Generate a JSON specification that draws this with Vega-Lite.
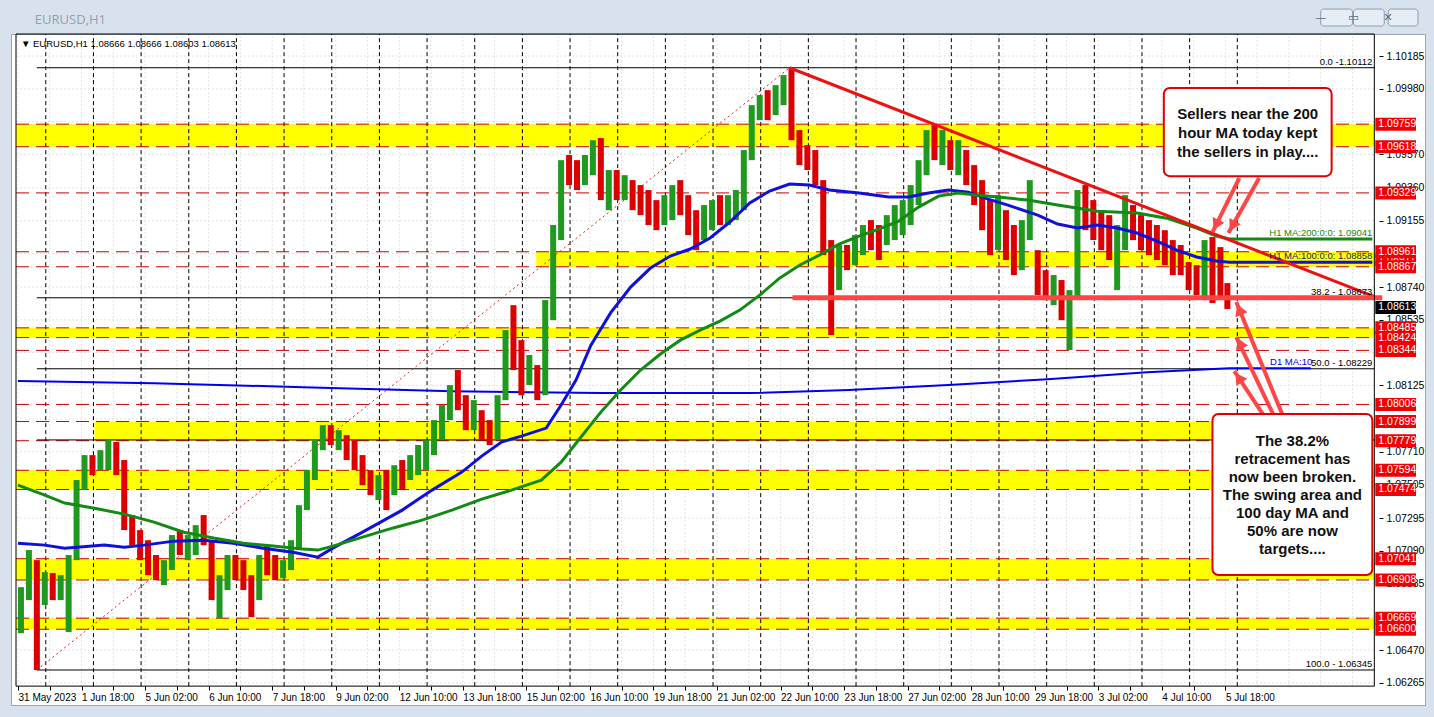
{
"$schema": "https://vega.github.io/schema/vega-lite/v6.json",
"width": 1414, "height": 671,
"autosize": {"type": "none"},
"padding": {"left": 11, "top": 34, "right": 9, "bottom": 12},
"background": "#d8e2ee",
"config": {"view": {"fill": "white", "stroke": "#9aa6b2"}, "font": "Liberation Sans"},
"resolve": {"axis": {"x": "independent", "y": "independent"}},
"data": {"values": [{}]},
"datasets": {
"yticks": [{"v":1.10185},{"v":1.0998},{"v":1.09775},{"v":1.0957},{"v":1.0936},{"v":1.09155},{"v":1.0895},{"v":1.0874},{"v":1.08535},{"v":1.0833},{"v":1.08125},{"v":1.07915},{"v":1.0771},{"v":1.07505},{"v":1.07295},{"v":1.0709},{"v":1.06885},{"v":1.06675},{"v":1.0647},{"v":1.06265}],
"xticks": [{"v":0},{"v":16},{"v":32},{"v":48},{"v":64},{"v":80},{"v":96},{"v":112},{"v":128},{"v":144},{"v":160},{"v":176},{"v":192},{"v":208},{"v":224},{"v":240},{"v":256},{"v":272},{"v":288},{"v":304},{"v":320},{"v":336},{"v":352},{"v":368},{"v":384},{"v":400},{"v":416},{"v":432},{"v":448},{"v":464},{"v":480},{"v":496},{"v":512},{"v":528},{"v":544},{"v":560},{"v":576},{"v":592},{"v":608},{"v":624},{"v":640},{"v":656},{"v":672}],
"days": [{"i":14},{"i":38},{"i":62},{"i":86},{"i":110},{"i":134},{"i":158},{"i":182},{"i":206},{"i":230},{"i":254},{"i":278},{"i":302},{"i":326},{"i":350},{"i":374},{"i":398},{"i":422},{"i":446},{"i":470},{"i":494},{"i":518},{"i":542},{"i":566},{"i":590},{"i":614}],
"bands": [{"lo":1.09618,"hi":1.09759,"from":-1},{"lo":1.08867,"hi":1.08961,"from":261},{"lo":1.08424,"hi":1.08485,"from":-1},{"lo":1.07779,"hi":1.07899,"from":38.5},{"lo":1.07474,"hi":1.07594,"from":-1},{"lo":1.06908,"hi":1.07041,"from":-1},{"lo":1.066,"hi":1.06669,"from":-1}],
"levels": [{"v":1.09759},{"v":1.09618},{"v":1.09329},{"v":1.08961},{"v":1.08867},{"v":1.08485},{"v":1.08424},{"v":1.08344},{"v":1.08006},{"v":1.07899},{"v":1.07779},{"v":1.07594},{"v":1.07474},{"v":1.07041},{"v":1.06908},{"v":1.06669},{"v":1.066}],
"fib": [{"v":1.10112,"t":"0.0 -1.10112"},{"v":1.08673,"t":"38.2 - 1.08673"},{"v":1.08229,"t":"50.0 - 1.08229"},{"v":1.07784,"t":"61.8 - 1.07784"},{"v":1.06345,"t":"100.0 - 1.06345"}],
"buttons": [{"a":656,"b":672,"g":"—"},{"a":672.5,"b":688,"g":"▭"},{"a":690,"b":705,"g":"✕"}],
"candles": [
{"i":1.5,"o":1.067,"h":1.06863,"l":1.06575,"c":1.0678},
{"i":5.5,"o":1.068,"h":1.07095,"l":1.06782,"c":1.07},
{"i":9.5,"o":1.07,"h":1.07032,"l":1.06345,"c":1.068},
{"i":13.5,"o":1.068,"h":1.06957,"l":1.06751,"c":1.0692},
{"i":17.5,"o":1.0692,"h":1.06951,"l":1.06782,"c":1.0685},
{"i":21.5,"o":1.0685,"h":1.06938,"l":1.06782,"c":1.069},
{"i":25.5,"o":1.069,"h":1.07064,"l":1.06582,"c":1.0705},
{"i":29.5,"o":1.0705,"h":1.07533,"l":1.07032,"c":1.075},
{"i":33.5,"o":1.075,"h":1.07689,"l":1.0747,"c":1.0765},
{"i":37.5,"o":1.0765,"h":1.07689,"l":1.07564,"c":1.076},
{"i":41.5,"o":1.076,"h":1.0772,"l":1.07595,"c":1.0768},
{"i":45.5,"o":1.0768,"h":1.07783,"l":1.07595,"c":1.0772},
{"i":49.5,"o":1.0772,"h":1.07771,"l":1.07564,"c":1.076},
{"i":53.5,"o":1.076,"h":1.07658,"l":1.0722,"c":1.0725},
{"i":57.5,"o":1.0725,"h":1.07314,"l":1.07126,"c":1.0718},
{"i":61.5,"o":1.0718,"h":1.0722,"l":1.07032,"c":1.0708},
{"i":65.5,"o":1.0708,"h":1.07157,"l":1.06938,"c":1.0698},
{"i":69.5,"o":1.0698,"h":1.07064,"l":1.06907,"c":1.0694},
{"i":73.5,"o":1.0694,"h":1.07032,"l":1.06876,"c":1.07},
{"i":77.5,"o":1.07,"h":1.07189,"l":1.0697,"c":1.0715},
{"i":81.5,"o":1.0715,"h":1.0722,"l":1.07064,"c":1.071},
{"i":85.5,"o":1.071,"h":1.07189,"l":1.07032,"c":1.0712},
{"i":89.5,"o":1.0712,"h":1.07251,"l":1.07064,"c":1.072},
{"i":93.5,"o":1.072,"h":1.07314,"l":1.07126,"c":1.0713},
{"i":97.5,"o":1.0713,"h":1.07157,"l":1.06782,"c":1.068},
{"i":101.5,"o":1.068,"h":1.06938,"l":1.06669,"c":1.069},
{"i":105.5,"o":1.069,"h":1.07064,"l":1.06845,"c":1.0702},
{"i":109.5,"o":1.0702,"h":1.07064,"l":1.06907,"c":1.0695},
{"i":113.5,"o":1.0695,"h":1.07032,"l":1.06845,"c":1.0688},
{"i":117.5,"o":1.0688,"h":1.06938,"l":1.06676,"c":1.0685},
{"i":121.5,"o":1.0685,"h":1.07064,"l":1.06782,"c":1.0703},
{"i":125.5,"o":1.0703,"h":1.07126,"l":1.06938,"c":1.07},
{"i":129.5,"o":1.07,"h":1.07064,"l":1.06907,"c":1.0696},
{"i":133.5,"o":1.0696,"h":1.07032,"l":1.06919,"c":1.0701},
{"i":137.5,"o":1.0701,"h":1.07157,"l":1.0697,"c":1.0712},
{"i":141.5,"o":1.0712,"h":1.07376,"l":1.07095,"c":1.0734},
{"i":145.5,"o":1.0734,"h":1.07595,"l":1.07345,"c":1.0756},
{"i":149.5,"o":1.0756,"h":1.07783,"l":1.07533,"c":1.0775},
{"i":153.5,"o":1.0775,"h":1.07877,"l":1.0772,"c":1.0782},
{"i":157.5,"o":1.0782,"h":1.07877,"l":1.07752,"c":1.0778},
{"i":161.5,"o":1.0778,"h":1.07845,"l":1.0772,"c":1.078},
{"i":165.5,"o":1.078,"h":1.07814,"l":1.07658,"c":1.077},
{"i":169.5,"o":1.077,"h":1.07783,"l":1.07595,"c":1.0763},
{"i":173.5,"o":1.0763,"h":1.07689,"l":1.07501,"c":1.0752},
{"i":177.5,"o":1.0752,"h":1.07595,"l":1.07439,"c":1.0746},
{"i":181.5,"o":1.0746,"h":1.07564,"l":1.07408,"c":1.0748},
{"i":185.5,"o":1.0748,"h":1.07595,"l":1.07345,"c":1.0745},
{"i":189.5,"o":1.0745,"h":1.07626,"l":1.07439,"c":1.0755},
{"i":193.5,"o":1.0755,"h":1.07658,"l":1.0747,"c":1.0754},
{"i":197.5,"o":1.0754,"h":1.07689,"l":1.07533,"c":1.0762},
{"i":201.5,"o":1.0762,"h":1.07752,"l":1.07564,"c":1.0768},
{"i":205.5,"o":1.0768,"h":1.07783,"l":1.07595,"c":1.0774},
{"i":209.5,"o":1.0774,"h":1.07908,"l":1.07689,"c":1.0786},
{"i":213.5,"o":1.0786,"h":1.08002,"l":1.07783,"c":1.0795},
{"i":217.5,"o":1.0795,"h":1.08127,"l":1.07908,"c":1.0808},
{"i":221.5,"o":1.0808,"h":1.08221,"l":1.0797,"c":1.0802},
{"i":225.5,"o":1.0802,"h":1.08064,"l":1.07845,"c":1.079},
{"i":229.5,"o":1.079,"h":1.08033,"l":1.07845,"c":1.0796},
{"i":233.5,"o":1.0796,"h":1.0797,"l":1.07783,"c":1.0787},
{"i":237.5,"o":1.0787,"h":1.07908,"l":1.07752,"c":1.0782},
{"i":241.5,"o":1.0782,"h":1.08064,"l":1.07783,"c":1.0802},
{"i":245.5,"o":1.0805,"h":1.08471,"l":1.08033,"c":1.084},
{"i":249.5,"o":1.084,"h":1.08627,"l":1.08221,"c":1.0828},
{"i":253.5,"o":1.0828,"h":1.08408,"l":1.08064,"c":1.081},
{"i":257.5,"o":1.0814,"h":1.08315,"l":1.08127,"c":1.0825},
{"i":261.5,"o":1.0825,"h":1.08252,"l":1.08033,"c":1.0808},
{"i":265.5,"o":1.0808,"h":1.08659,"l":1.08064,"c":1.086},
{"i":269.5,"o":1.086,"h":1.09128,"l":1.08533,"c":1.0905},
{"i":273.5,"o":1.0905,"h":1.09534,"l":1.09034,"c":1.0948},
{"i":277.5,"o":1.0948,"h":1.09566,"l":1.09378,"c":1.0945},
{"i":281.5,"o":1.0945,"h":1.09534,"l":1.09347,"c":1.094},
{"i":285.5,"o":1.094,"h":1.09566,"l":1.09378,"c":1.095},
{"i":289.5,"o":1.095,"h":1.09659,"l":1.0944,"c":1.0958},
{"i":293.5,"o":1.0958,"h":1.09672,"l":1.09284,"c":1.0932},
{"i":297.5,"o":1.0932,"h":1.09472,"l":1.09221,"c":1.094},
{"i":301.5,"o":1.094,"h":1.09472,"l":1.09284,"c":1.0935},
{"i":305.5,"o":1.0935,"h":1.0944,"l":1.09284,"c":1.0938},
{"i":309.5,"o":1.0938,"h":1.09409,"l":1.09221,"c":1.093},
{"i":313.5,"o":1.093,"h":1.09378,"l":1.0919,"c":1.0925},
{"i":317.5,"o":1.0925,"h":1.09347,"l":1.09128,"c":1.0918},
{"i":321.5,"o":1.0918,"h":1.09284,"l":1.09096,"c":1.0915},
{"i":325.5,"o":1.0915,"h":1.09315,"l":1.09128,"c":1.0925},
{"i":329.5,"o":1.0925,"h":1.09378,"l":1.09159,"c":1.0932},
{"i":333.5,"o":1.0932,"h":1.09409,"l":1.0919,"c":1.0925},
{"i":337.5,"o":1.0925,"h":1.09315,"l":1.09065,"c":1.0912},
{"i":341.5,"o":1.0912,"h":1.09221,"l":1.08971,"c":1.0905},
{"i":345.5,"o":1.0905,"h":1.09253,"l":1.09034,"c":1.0915},
{"i":349.5,"o":1.0915,"h":1.09284,"l":1.09096,"c":1.0922},
{"i":353.5,"o":1.0922,"h":1.09315,"l":1.09128,"c":1.0918},
{"i":357.5,"o":1.0918,"h":1.09315,"l":1.09128,"c":1.0925},
{"i":361.5,"o":1.0925,"h":1.09347,"l":1.09159,"c":1.093},
{"i":365.5,"o":1.093,"h":1.09597,"l":1.09221,"c":1.0955},
{"i":369.5,"o":1.0955,"h":1.09878,"l":1.09534,"c":1.0982},
{"i":373.5,"o":1.0982,"h":1.09941,"l":1.09784,"c":1.099},
{"i":377.5,"o":1.099,"h":1.09972,"l":1.09784,"c":1.0985},
{"i":381.5,"o":1.0985,"h":1.10003,"l":1.09816,"c":1.0995},
{"i":385.5,"o":1.0995,"h":1.10066,"l":1.09878,"c":1.1},
{"i":389.5,"o":1.1,"h":1.10112,"l":1.09659,"c":1.0968},
{"i":393.5,"o":1.0968,"h":1.09722,"l":1.09503,"c":1.0955},
{"i":397.5,"o":1.0955,"h":1.09628,"l":1.09472,"c":1.095},
{"i":401.5,"o":1.095,"h":1.09597,"l":1.09378,"c":1.0942},
{"i":405.5,"o":1.094,"h":1.09409,"l":1.0894,"c":1.09},
{"i":409.5,"o":1.09,"h":1.09034,"l":1.0844,"c":1.088},
{"i":413.5,"o":1.088,"h":1.09003,"l":1.08721,"c":1.0895},
{"i":417.5,"o":1.0895,"h":1.09003,"l":1.08846,"c":1.089},
{"i":421.5,"o":1.089,"h":1.09065,"l":1.08877,"c":1.09},
{"i":425.5,"o":1.09,"h":1.09128,"l":1.0894,"c":1.0908},
{"i":429.5,"o":1.0908,"h":1.09159,"l":1.08971,"c":1.0905},
{"i":433.5,"o":1.0905,"h":1.09128,"l":1.08909,"c":1.0898},
{"i":437.5,"o":1.0901,"h":1.0919,"l":1.09003,"c":1.0912},
{"i":441.5,"o":1.0912,"h":1.09253,"l":1.09034,"c":1.0918},
{"i":445.5,"o":1.0918,"h":1.09284,"l":1.09065,"c":1.0922},
{"i":449.5,"o":1.0922,"h":1.09378,"l":1.09128,"c":1.0932},
{"i":453.5,"o":1.0932,"h":1.09534,"l":1.09253,"c":1.095},
{"i":457.5,"o":1.095,"h":1.09722,"l":1.0944,"c":1.0968},
{"i":461.5,"o":1.0968,"h":1.09753,"l":1.09534,"c":1.096},
{"i":465.5,"o":1.096,"h":1.09722,"l":1.09503,"c":1.0965},
{"i":469.5,"o":1.0965,"h":1.09659,"l":1.09472,"c":1.0955},
{"i":473.5,"o":1.0955,"h":1.09659,"l":1.0944,"c":1.0958},
{"i":477.5,"o":1.0958,"h":1.09597,"l":1.09378,"c":1.0945},
{"i":481.5,"o":1.0945,"h":1.09503,"l":1.09253,"c":1.093},
{"i":485.5,"o":1.093,"h":1.09409,"l":1.09096,"c":1.0915},
{"i":489.5,"o":1.0915,"h":1.09284,"l":1.0894,"c":1.09},
{"i":493.5,"o":1.09,"h":1.09315,"l":1.08971,"c":1.0912},
{"i":497.5,"o":1.0912,"h":1.09221,"l":1.08909,"c":1.0895},
{"i":501.5,"o":1.0895,"h":1.09128,"l":1.08815,"c":1.0888},
{"i":505.5,"o":1.0888,"h":1.09159,"l":1.08846,"c":1.0905},
{"i":509.5,"o":1.0905,"h":1.09409,"l":1.09034,"c":1.0912},
{"i":513.5,"o":1.0895,"h":1.08971,"l":1.0869,"c":1.0875},
{"i":517.5,"o":1.0875,"h":1.08846,"l":1.08659,"c":1.0868},
{"i":521.5,"o":1.0868,"h":1.08815,"l":1.08627,"c":1.0872},
{"i":525.5,"o":1.0872,"h":1.08784,"l":1.08533,"c":1.0858},
{"i":529.5,"o":1.0858,"h":1.08721,"l":1.08346,"c":1.0862},
{"i":533.5,"o":1.0866,"h":1.09347,"l":1.08659,"c":1.0925},
{"i":537.5,"o":1.0925,"h":1.09378,"l":1.09096,"c":1.0918},
{"i":541.5,"o":1.0918,"h":1.09284,"l":1.09034,"c":1.0912},
{"i":545.5,"o":1.0912,"h":1.09221,"l":1.08971,"c":1.0905},
{"i":549.5,"o":1.0905,"h":1.0919,"l":1.08909,"c":1.09},
{"i":553.5,"o":1.09,"h":1.09128,"l":1.08721,"c":1.0905},
{"i":557.5,"o":1.0905,"h":1.09315,"l":1.08971,"c":1.0922},
{"i":561.5,"o":1.0922,"h":1.09253,"l":1.09034,"c":1.0915},
{"i":565.5,"o":1.0915,"h":1.0919,"l":1.08971,"c":1.091},
{"i":569.5,"o":1.091,"h":1.09159,"l":1.0894,"c":1.0905},
{"i":573.5,"o":1.0905,"h":1.09128,"l":1.08909,"c":1.09},
{"i":577.5,"o":1.09,"h":1.09096,"l":1.08877,"c":1.0895},
{"i":581.5,"o":1.0895,"h":1.09034,"l":1.08815,"c":1.089},
{"i":585.5,"o":1.089,"h":1.09003,"l":1.08815,"c":1.0885},
{"i":589.5,"o":1.0885,"h":1.08896,"l":1.08721,"c":1.0875},
{"i":593.5,"o":1.0875,"h":1.08877,"l":1.0869,"c":1.0872},
{"i":597.5,"o":1.0872,"h":1.09034,"l":1.08659,"c":1.0895},
{"i":601.5,"o":1.0895,"h":1.09053,"l":1.0864,"c":1.0885},
{"i":605.5,"o":1.0885,"h":1.0899,"l":1.08678,"c":1.0877},
{"i":609,"o":1.0876,"h":1.08765,"l":1.08603,"c":1.08613}
],
"ma100": [{"i":0,"v":1.07138},{"i":13.5,"v":1.07126},{"i":23.5,"v":1.07107},{"i":43.5,"v":1.07126},{"i":53.5,"v":1.07113},{"i":63.5,"v":1.07126},{"i":78.5,"v":1.07151},{"i":93.5,"v":1.07157},{"i":108.5,"v":1.07138},{"i":123.5,"v":1.07107},{"i":138.5,"v":1.07082},{"i":151,"v":1.07051},{"i":158.5,"v":1.07107},{"i":173.5,"v":1.07207},{"i":193.5,"v":1.07345},{"i":208.5,"v":1.0747},{"i":223.5,"v":1.07583},{"i":233.5,"v":1.07683},{"i":243.5,"v":1.07771},{"i":253.5,"v":1.07808},{"i":266,"v":1.07858},{"i":273.5,"v":1.08002},{"i":281,"v":1.08158},{"i":288.5,"v":1.08377},{"i":298.5,"v":1.0858},{"i":308.5,"v":1.0874},{"i":318.5,"v":1.08859},{"i":328.5,"v":1.08934},{"i":338.5,"v":1.08978},{"i":348.5,"v":1.09047},{"i":358.5,"v":1.09147},{"i":368.5,"v":1.09266},{"i":378.5,"v":1.09341},{"i":388.5,"v":1.09384},{"i":398.5,"v":1.09378},{"i":408.5,"v":1.09347},{"i":423.5,"v":1.09328},{"i":438.5,"v":1.09303},{"i":448.5,"v":1.09303},{"i":458.5,"v":1.09328},{"i":468.5,"v":1.09347},{"i":478.5,"v":1.09334},{"i":488.5,"v":1.0929},{"i":498.5,"v":1.09253},{"i":513.5,"v":1.0919},{"i":523.5,"v":1.09134},{"i":533.5,"v":1.09109},{"i":543.5,"v":1.09128},{"i":553.5,"v":1.09109},{"i":563.5,"v":1.09078},{"i":573.5,"v":1.09028},{"i":583.5,"v":1.08971},{"i":593.5,"v":1.08928},{"i":603.5,"v":1.08903},{"i":610,"v":1.08896},{"i":682,"v":1.08896}],
"ma200": [{"i":0,"v":1.07501},{"i":13.5,"v":1.07439},{"i":23.5,"v":1.07389},{"i":38.5,"v":1.07357},{"i":53.5,"v":1.0732},{"i":68.5,"v":1.0727},{"i":83.5,"v":1.07207},{"i":98.5,"v":1.0717},{"i":113.5,"v":1.07138},{"i":128.5,"v":1.0712},{"i":143.5,"v":1.07101},{"i":151,"v":1.07095},{"i":158.5,"v":1.0712},{"i":173.5,"v":1.07176},{"i":188.5,"v":1.07232},{"i":203.5,"v":1.07282},{"i":218.5,"v":1.07345},{"i":233.5,"v":1.07414},{"i":248.5,"v":1.0747},{"i":263.5,"v":1.07533},{"i":273.5,"v":1.07645},{"i":283.5,"v":1.07802},{"i":293.5,"v":1.07958},{"i":303.5,"v":1.08096},{"i":313.5,"v":1.08221},{"i":323.5,"v":1.08321},{"i":333.5,"v":1.08408},{"i":343.5,"v":1.08471},{"i":353.5,"v":1.08527},{"i":363.5,"v":1.08596},{"i":373.5,"v":1.0869},{"i":383.5,"v":1.08796},{"i":393.5,"v":1.08877},{"i":403.5,"v":1.0894},{"i":413.5,"v":1.09009},{"i":423.5,"v":1.09059},{"i":433.5,"v":1.09103},{"i":443.5,"v":1.09153},{"i":453.5,"v":1.0924},{"i":463.5,"v":1.09309},{"i":473.5,"v":1.09328},{"i":483.5,"v":1.09315},{"i":493.5,"v":1.09303},{"i":508.5,"v":1.09284},{"i":523.5,"v":1.09253},{"i":543.5,"v":1.09215},{"i":563.5,"v":1.09203},{"i":578.5,"v":1.09171},{"i":593.5,"v":1.09109},{"i":603.5,"v":1.09059},{"i":610,"v":1.09041},{"i":682,"v":1.09041}],
"d1ma": [{"i":0,"v":1.08152},{"i":68.5,"v":1.08139},{"i":143.5,"v":1.08114},{"i":218.5,"v":1.08089},{"i":293.5,"v":1.08077},{"i":368.5,"v":1.08077},{"i":418.5,"v":1.08096},{"i":468.5,"v":1.08127},{"i":518.5,"v":1.08164},{"i":568.5,"v":1.08208},{"i":610,"v":1.08233},{"i":651,"v":1.08233}],
"arrows": [
{"x1":615,"p1":1.09422,"x2":601.5,"p2":1.09084,"hx":603.3,"hp":1.09129,"ang":206.6},
{"x1":625,"p1":1.09422,"x2":609.5,"p2":1.09078,"hx":611.5,"hp":1.09122,"ang":209.4},
{"x1":637,"p1":1.07933,"x2":613.5,"p2":1.08646,"hx":615,"hp":1.086,"ang":337.6},
{"x1":632.5,"p1":1.07933,"x2":613.5,"p2":1.08427,"hx":615.25,"hp":1.08389,"ang":334.3},
{"x1":627.5,"p1":1.07933,"x2":612.5,"p2":1.08214,"hx":614.7,"hp":1.08173,"ang":326.3}
]
},
"layer": [
{"data":{"name":"yticks"},"mark":{"type":"rule","color":"#e2e2e2","strokeDash":[2,2]},"encoding":{"y":{"field":"v","type":"quantitative","scale":{"domain":[1.06126,1.10323],"zero":false,"nice":false},"axis":null},"x":{"datum":-1,"type":"quantitative","scale":{"domain":[-1,706]},"axis":null},"x2":{"datum":683}}},
{"data":{"name":"xticks"},"mark":{"type":"rule","color":"#e2e2e2","strokeDash":[2,2]},"encoding":{"x":{"field":"v","type":"quantitative","scale":{"domain":[-1,706]},"axis":null},"y":{"datum":1.06244,"type":"quantitative","scale":{"domain":[1.06126,1.10323],"zero":false,"nice":false},"axis":null},"y2":{"datum":1.10323}}},
{"data":{"name":"bands"},"mark":{"type":"rect","color":"#ffff00"},"encoding":{"x":{"field":"from","type":"quantitative","scale":{"domain":[-1,706]},"axis":null},"x2":{"datum":683},"y":{"field":"lo","type":"quantitative","scale":{"domain":[1.06126,1.10323],"zero":false,"nice":false},"axis":null},"y2":{"field":"hi"}}},
{"data":{"name":"days"},"mark":{"type":"rule","color":"#000000","strokeDash":[4,3],"strokeWidth":1},"encoding":{"x":{"field":"i","type":"quantitative","scale":{"domain":[-1,706]},"axis":null},"y":{"datum":1.06244,"type":"quantitative","scale":{"domain":[1.06126,1.10323],"zero":false,"nice":false},"axis":null},"y2":{"datum":1.10323}}},
{"data":{"name":"levels"},"mark":{"type":"rule","color":"#c80000","strokeDash":[13,7]},"encoding":{"y":{"field":"v","type":"quantitative","scale":{"domain":[1.06126,1.10323],"zero":false,"nice":false},"axis":null},"x":{"datum":-1,"type":"quantitative","scale":{"domain":[-1,706]},"axis":null},"x2":{"datum":683}}},
{"data":{"name":"fib"},"mark":{"type":"rule","color":"#000000"},"encoding":{"y":{"field":"v","type":"quantitative","scale":{"domain":[1.06126,1.10323],"zero":false,"nice":false},"axis":null},"x":{"datum":9.5,"type":"quantitative","scale":{"domain":[-1,706]},"axis":null},"x2":{"datum":683}}},
{"mark":{"type":"rule","color":"#e02020","strokeDash":[2,3]},"encoding":{"x":{"datum":9.5,"type":"quantitative","scale":{"domain":[-1,706]},"axis":null},"y":{"datum":1.06345,"type":"quantitative","scale":{"domain":[1.06126,1.10323],"zero":false,"nice":false},"axis":null},"x2":{"datum":388.5},"y2":{"datum":1.10112}}},
{"data":{"name":"d1ma"},"mark":{"type":"line","color":"#0000ee","strokeWidth":2},"encoding":{"x":{"field":"i","type":"quantitative","scale":{"domain":[-1,706]},"axis":null},"y":{"field":"v","type":"quantitative","scale":{"domain":[1.06126,1.10323],"zero":false,"nice":false},"axis":null}}},
{"data":{"name":"candles"},"mark":{"type":"bar","width":6},"encoding":{
"x":{"field":"i","type":"quantitative","scale":{"domain":[-1,706]},"axis":{"orient":"bottom","offset":-19,"values":[0,16,32,48,64,80,96,112,128,144,160,176,192,208,224,240,256,272,288,304,320,336,352,368,384,400,416,432,448,464,480,496,512,528,544,560,576,592,608],"labelExpr":"datum.value % 32 == 0 ? ['31 May 2023','1 Jun 18:00','5 Jun 02:00','6 Jun 10:00','7 Jun 18:00','9 Jun 02:00','12 Jun 10:00','13 Jun 18:00','15 Jun 02:00','16 Jun 10:00','19 Jun 18:00','21 Jun 02:00','22 Jun 10:00','23 Jun 18:00','27 Jun 02:00','28 Jun 10:00','29 Jun 18:00','3 Jul 02:00','4 Jul 10:00','5 Jul 18:00'][datum.value / 32] : ''","labelAlign":"left","labelBaseline":"top","labelPadding":2,"tickSize":4,"tickColor":"#000000","labelColor":"#000000","labelFontSize":10,"labelFont":"Liberation Sans","domain":false,"grid":false,"title":null,"labelOverlap":false,"labelBound":false,"labelFlush":false}},
"y":{"field":"l","type":"quantitative","scale":{"domain":[1.06126,1.10323],"zero":false,"nice":false},"axis":{"orient":"right","offset":-46,"values":[1.10185,1.0998,1.0957,1.0936,1.09155,1.0874,1.08535,1.08125,1.0771,1.07505,1.07295,1.0709,1.06885,1.0647,1.06265],"format":".5f","labelPadding":3,"tickSize":4,"tickColor":"#000000","labelColor":"#000000","labelFontSize":10.5,"labelFont":"Liberation Sans","domain":false,"grid":false,"title":null,"labelOverlap":false,"labelBound":false,"labelFlush":false,"labelBaseline":"middle"}},
"y2":{"field":"h"},
"color":{"condition":{"test":"datum.c >= datum.o","value":"#1f9a1f"},"value":"#dd0000"}}},
{"data":{"name":"ma100"},"mark":{"type":"line","color":"#1010dd","strokeWidth":3},"encoding":{"x":{"field":"i","type":"quantitative","scale":{"domain":[-1,706]},"axis":null},"y":{"field":"v","type":"quantitative","scale":{"domain":[1.06126,1.10323],"zero":false,"nice":false},"axis":null}}},
{"data":{"name":"ma200"},"mark":{"type":"line","color":"#138a13","strokeWidth":3},"encoding":{"x":{"field":"i","type":"quantitative","scale":{"domain":[-1,706]},"axis":null},"y":{"field":"v","type":"quantitative","scale":{"domain":[1.06126,1.10323],"zero":false,"nice":false},"axis":null}}},
{"mark":{"type":"rule","color":"#ee1111","strokeWidth":3},"encoding":{"x":{"datum":388.5,"type":"quantitative","scale":{"domain":[-1,706]},"axis":null},"y":{"datum":1.10112,"type":"quantitative","scale":{"domain":[1.06126,1.10323],"zero":false,"nice":false},"axis":null},"x2":{"datum":683},"y2":{"datum":1.0868}}},
{"mark":{"type":"rule","color":"#ff4545","strokeWidth":5},"encoding":{"x":{"datum":390,"type":"quantitative","scale":{"domain":[-1,706]},"axis":null},"y":{"datum":1.08673,"type":"quantitative","scale":{"domain":[1.06126,1.10323],"zero":false,"nice":false},"axis":null},"x2":{"datum":687}}},
{"data":{"name":"fib"},"mark":{"type":"text","align":"right","baseline":"bottom","dy":-1,"fontSize":9.5,"color":"#000000"},"encoding":{"x":{"datum":682,"type":"quantitative","scale":{"domain":[-1,706]},"axis":null},"y":{"field":"v","type":"quantitative","scale":{"domain":[1.06126,1.10323],"zero":false,"nice":false},"axis":null},"text":{"field":"t"}}},
{"mark":{"type":"text","align":"right","baseline":"bottom","dy":-1,"fontSize":9.5,"color":"#138a13"},"encoding":{"x":{"datum":682,"type":"quantitative","scale":{"domain":[-1,706]},"axis":null},"y":{"datum":1.09041,"type":"quantitative","scale":{"domain":[1.06126,1.10323],"zero":false,"nice":false},"axis":null},"text":{"value":"H1 MA:200:0:0: 1.09041"}}},
{"mark":{"type":"text","align":"right","baseline":"bottom","dy":-1,"fontSize":9.5,"color":"#20207a"},"encoding":{"x":{"datum":682,"type":"quantitative","scale":{"domain":[-1,706]},"axis":null},"y":{"datum":1.08896,"type":"quantitative","scale":{"domain":[1.06126,1.10323],"zero":false,"nice":false},"axis":null},"text":{"value":"H1 MA:100:0:0: 1.08858"}}},
{"mark":{"type":"text","align":"left","baseline":"bottom","dy":-1,"fontSize":9.5,"color":"#0000ee"},"encoding":{"x":{"datum":630.5,"type":"quantitative","scale":{"domain":[-1,706]},"axis":null},"y":{"datum":1.08233,"type":"quantitative","scale":{"domain":[1.06126,1.10323],"zero":false,"nice":false},"axis":null},"text":{"value":"D1 MA:10"}}},
{"data":{"name":"arrows"},"mark":{"type":"rule","color":"#ff4545","strokeWidth":4},"encoding":{"x":{"field":"x1","type":"quantitative","scale":{"domain":[-1,706]},"axis":null},"y":{"field":"p1","type":"quantitative","scale":{"domain":[1.06126,1.10323],"zero":false,"nice":false},"axis":null},"x2":{"field":"x2"},"y2":{"field":"p2"}}},
{"data":{"name":"arrows"},"mark":{"type":"point","shape":"triangle-up","filled":true,"size":170,"color":"#ff4545","opacity":1},"encoding":{"x":{"field":"hx","type":"quantitative","scale":{"domain":[-1,706]},"axis":null},"y":{"field":"hp","type":"quantitative","scale":{"domain":[1.06126,1.10323],"zero":false,"nice":false},"axis":null},"angle":{"field":"ang","type":"quantitative","scale":null}}},
{"mark":{"type":"rect","fill":"#ffffff","stroke":"#e00000","strokeWidth":2,"cornerRadius":6},"encoding":{"x":{"datum":577,"type":"quantitative","scale":{"domain":[-1,706]},"axis":null},"x2":{"datum":661.5},"y":{"datum":1.09985,"type":"quantitative","scale":{"domain":[1.06126,1.10323],"zero":false,"nice":false},"axis":null},"y2":{"datum":1.09434}}},
{"mark":{"type":"text","align":"center","baseline":"middle","fontSize":15,"fontWeight":"bold","font":"Liberation Sans","lineHeight":19,"color":"#111111"},"encoding":{"x":{"datum":619.25,"type":"quantitative","scale":{"domain":[-1,706]},"axis":null},"y":{"datum":1.09822,"type":"quantitative","scale":{"domain":[1.06126,1.10323],"zero":false,"nice":false},"axis":null},"text":{"value":["Sellers near the 200","hour MA today kept","the sellers in play...."]}}},
{"mark":{"type":"rect","fill":"#ffffff","stroke":"#e00000","strokeWidth":2,"cornerRadius":6},"encoding":{"x":{"datum":601.5,"type":"quantitative","scale":{"domain":[-1,706]},"axis":null},"x2":{"datum":682},"y":{"datum":1.07946,"type":"quantitative","scale":{"domain":[1.06126,1.10323],"zero":false,"nice":false},"axis":null},"y2":{"datum":1.06939}}},
{"mark":{"type":"text","align":"center","baseline":"middle","fontSize":15,"fontWeight":"bold","font":"Liberation Sans","lineHeight":18,"color":"#111111"},"encoding":{"x":{"datum":641.75,"type":"quantitative","scale":{"domain":[-1,706]},"axis":null},"y":{"datum":1.07777,"type":"quantitative","scale":{"domain":[1.06126,1.10323],"zero":false,"nice":false},"axis":null},"text":{"value":["The 38.2%","retracement has","now been broken.","The swing area and","100 day MA and","50% are now","targets...."]}}},
{"mark":{"type":"rule","color":"#f00000","strokeWidth":13},"encoding":{"x":{"datum":683.5,"type":"quantitative","scale":{"domain":[-1,706]},"axis":null},"x2":{"datum":704},"y":{"datum":1.08911,"type":"quantitative","scale":{"domain":[1.06126,1.10323],"zero":false,"nice":false},"axis":null}}},
{"mark":{"type":"text","align":"left","baseline":"middle","dx":3,"fontSize":10.5,"color":"#ffffff"},"encoding":{"x":{"datum":683.5,"type":"quantitative","scale":{"domain":[-1,706]},"axis":null},"y":{"datum":1.08911,"type":"quantitative","scale":{"domain":[1.06126,1.10323],"zero":false,"nice":false},"axis":null},"text":{"value":"1.08911"}}},
{"data":{"name":"levels"},"mark":{"type":"rule","color":"#f00000","strokeWidth":13},"encoding":{"x":{"datum":683.5,"type":"quantitative","scale":{"domain":[-1,706]},"axis":null},"x2":{"datum":704},"y":{"field":"v","type":"quantitative","scale":{"domain":[1.06126,1.10323],"zero":false,"nice":false},"axis":null}}},
{"data":{"name":"levels"},"mark":{"type":"text","align":"left","baseline":"middle","dx":3,"fontSize":10.5,"color":"#ffffff"},"encoding":{"x":{"datum":683.5,"type":"quantitative","scale":{"domain":[-1,706]},"axis":null},"y":{"field":"v","type":"quantitative","scale":{"domain":[1.06126,1.10323],"zero":false,"nice":false},"axis":null},"text":{"field":"v","format":".5f"}}},
{"mark":{"type":"rule","color":"#000000","strokeWidth":13},"encoding":{"x":{"datum":683.5,"type":"quantitative","scale":{"domain":[-1,706]},"axis":null},"x2":{"datum":704},"y":{"datum":1.08613,"type":"quantitative","scale":{"domain":[1.06126,1.10323],"zero":false,"nice":false},"axis":null}}},
{"mark":{"type":"text","align":"left","baseline":"middle","dx":3,"fontSize":10.5,"color":"#ffffff"},"encoding":{"x":{"datum":683.5,"type":"quantitative","scale":{"domain":[-1,706]},"axis":null},"y":{"datum":1.08613,"type":"quantitative","scale":{"domain":[1.06126,1.10323],"zero":false,"nice":false},"axis":null},"text":{"value":"1.08613"}}},
{"mark":{"type":"rule","color":"#000000"},"encoding":{"x":{"datum":-1,"type":"quantitative","scale":{"domain":[-1,706]},"axis":null},"y":{"datum":1.06244,"type":"quantitative","scale":{"domain":[1.06126,1.10323],"zero":false,"nice":false},"axis":null},"y2":{"datum":1.10323}}},
{"mark":{"type":"rule","color":"#000000"},"encoding":{"x":{"datum":683,"type":"quantitative","scale":{"domain":[-1,706]},"axis":null},"y":{"datum":1.06244,"type":"quantitative","scale":{"domain":[1.06126,1.10323],"zero":false,"nice":false},"axis":null},"y2":{"datum":1.10323}}},
{"mark":{"type":"rule","color":"#000000"},"encoding":{"x":{"datum":-1,"type":"quantitative","scale":{"domain":[-1,706]},"axis":null},"x2":{"datum":683},"y":{"datum":1.10323,"type":"quantitative","scale":{"domain":[1.06126,1.10323],"zero":false,"nice":false},"axis":null}}},
{"mark":{"type":"rule","color":"#000000"},"encoding":{"x":{"datum":-1,"type":"quantitative","scale":{"domain":[-1,706]},"axis":null},"x2":{"datum":683},"y":{"datum":1.06244,"type":"quantitative","scale":{"domain":[1.06126,1.10323],"zero":false,"nice":false},"axis":null}}},
{"mark":{"type":"text","align":"left","baseline":"middle","fontSize":9.5,"color":"#000000"},"encoding":{"x":{"datum":1.5,"type":"quantitative","scale":{"domain":[-1,706]},"axis":null},"y":{"datum":1.1026,"type":"quantitative","scale":{"domain":[1.06126,1.10323],"zero":false,"nice":false},"axis":null},"text":{"value":"▼ EURUSD,H1  1.08666 1.08666 1.08603 1.08613"}}},
{"mark":{"type":"text","align":"left","baseline":"middle","fontSize":13,"font":"Open Sans","color":"#93a0ad"},"encoding":{"x":{"datum":8.5,"type":"quantitative","scale":{"domain":[-1,706]},"axis":null},"y":{"datum":1.1041,"type":"quantitative","scale":{"domain":[1.06126,1.10323],"zero":false,"nice":false},"axis":null},"text":{"value":"EURUSD,H1"}}},
{"data":{"name":"buttons"},"mark":{"type":"rect","fill":"#e6edf6","stroke":"#8e9cab","strokeWidth":1,"cornerRadius":3},"encoding":{"x":{"field":"a","type":"quantitative","scale":{"domain":[-1,706]},"axis":null},"x2":{"field":"b"},"y":{"datum":1.10373,"type":"quantitative","scale":{"domain":[1.06126,1.10323],"zero":false,"nice":false},"axis":null},"y2":{"datum":1.10479}}},
{"data":{"name":"buttons"},"mark":{"type":"text","align":"center","baseline":"middle","fontSize":11,"font":"DejaVu Sans","color":"#5d6b7a"},"encoding":{"x":{"field":"a","type":"quantitative","scale":{"domain":[-1,706]},"axis":null},"y":{"datum":1.1042,"type":"quantitative","scale":{"domain":[1.06126,1.10323],"zero":false,"nice":false},"axis":null},"text":{"field":"g"},"dx":{"value":16}}}
]
}
